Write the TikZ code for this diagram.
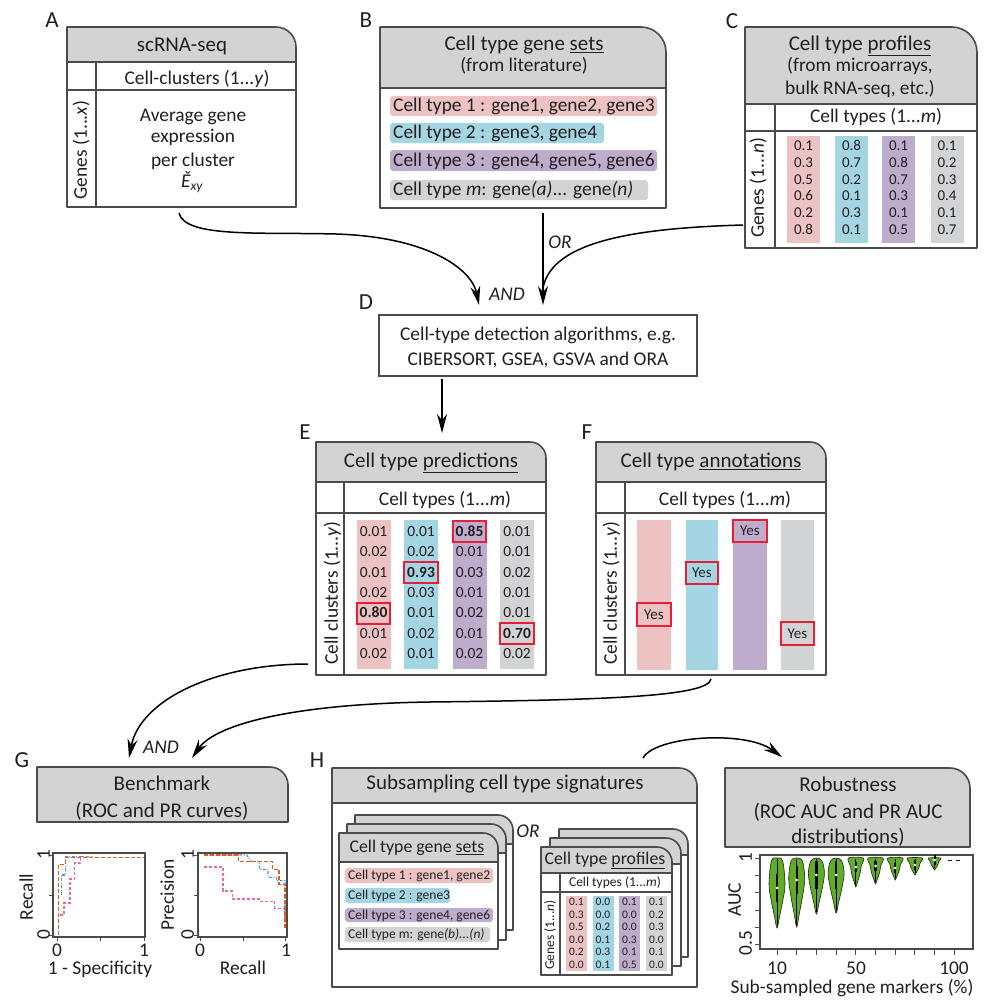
\documentclass[tikz,border=0pt]{standalone}
\usepackage{fontspec}
\setmainfont{Carlito}
\usetikzlibrary{arrows.meta}
\definecolor{txt}{RGB}{35,31,32}
\definecolor{hdrc}{RGB}{211,211,212}
\definecolor{cpink}{RGB}{236,194,194}
\definecolor{cblue}{RGB}{163,213,226}
\definecolor{cpurp}{RGB}{190,172,205}
\definecolor{cgray}{RGB}{210,211,213}
\definecolor{lnc}{RGB}{75,75,75}
\definecolor{redb}{RGB}{230,30,55}
\definecolor{vgreen}{RGB}{96,172,42}
\definecolor{corange}{RGB}{232,90,20}
\definecolor{cbluel}{RGB}{75,150,205}
\definecolor{cpinkl}{RGB}{225,105,175}
\newcommand\card[6]{%
  \fill[white] (#1,#4) -- (#1,#2) -- ({#3-#6},#2) .. controls ({#3-0.45*#6},#2) and (#3,{#2+0.45*#6}) .. (#3,{#2+#6}) -- (#3,#4) -- cycle;
  \fill[hdrc] (#1,#5) -- (#1,#2) -- ({#3-#6},#2) .. controls ({#3-0.45*#6},#2) and (#3,{#2+0.45*#6}) .. (#3,{#2+#6}) -- (#3,#5) -- cycle;
  \draw[cardline] (#1,#4) -- (#1,#2) -- ({#3-#6},#2) .. controls ({#3-0.45*#6},#2) and (#3,{#2+0.45*#6}) .. (#3,{#2+#6}) -- (#3,#4) -- cycle;
  \draw[cardline] (#1,#5) -- (#3,#5);
}
\newcommand\violinT[5]{% cx yb ym w med
  \pgfmathsetmacro\vh{#2-#3}
  \draw[violin] plot[smooth cycle,tension=0.6] coordinates {(#1,858) ({#1+0.7*#4},861) ({#1+#4},#3) ({#1+0.75*#4},{#3+0.35*\vh}) ({#1+0.3*#4},{#3+0.75*\vh}) (#1,#2) ({#1-0.3*#4},{#3+0.75*\vh}) ({#1-0.75*#4},{#3+0.35*\vh}) ({#1-#4},#3) ({#1-0.7*#4},861)};
  \draw[line width=0.8pt] (#1,859) -- (#1,{#2-2});
  \draw[line width=2.2pt] (#1,{#5-14}) -- (#1,{#5+14});
  \fill[white] (#1,#5) circle (1.5pt);
}
\newcommand\violinP[4]{% cx yb w med
  \pgfmathsetmacro\vh{#2-858}
  \draw[violin] plot[smooth cycle,tension=0.5] coordinates {({#1-#3},858) ({#1+#3},858) ({#1+0.7*#3},{858+0.3*\vh}) ({#1+0.55*#3},{858+0.55*\vh}) ({#1+0.2*#3},{858+0.85*\vh}) (#1,#2) ({#1-0.2*#3},{858+0.85*\vh}) ({#1-0.55*#3},{858+0.55*\vh}) ({#1-0.7*#3},{858+0.3*\vh})};
  \draw[line width=0.8pt] (#1,859) -- (#1,{#2-2});
  \draw[line width=2.2pt] (#1,{#4-5}) -- (#1,{#4+5});
  \fill[white] (#1,#4) circle (1.5pt);
}
\begin{document}
\begin{tikzpicture}[x=1pt,y=-1pt,
  t/.style={inner sep=0pt,text depth=0pt,text=txt},
  lb/.style={t,font=\fontsize{23}{23}\selectfont,text height=13.8pt},
  hd/.style={t,font=\fontsize{21}{21}\selectfont,text height=12.6pt},
  bd/.style={t,font=\fontsize{19.4}{19.4}\selectfont,text height=11.6pt},
  nC/.style={t,font=\fontsize{15}{15}\selectfont,text height=9pt},
  nE/.style={t,font=\fontsize{15.5}{15.5}\selectfont,text height=9.3pt},
  hs/.style={t,font=\fontsize{17.8}{17.8}\selectfont,text height=10.7pt},
  hr/.style={t,font=\fontsize{13.5}{13.5}\selectfont,text height=8.1pt},
  hn/.style={t,font=\fontsize{11.5}{11.5}\selectfont,text height=6.9pt},
  cardline/.style={draw=lnc,line width=1.6pt,line join=round},
  arr/.style={line width=1.5pt,-{Stealth[length=19pt,width=10pt]}},
  redbox/.style={draw=redb,line width=1.4pt},
  violin/.style={fill=vgreen,draw=black!75!vgreen,line width=0.6pt},
  axis/.style={draw=lnc,line width=1.3pt},
]
\useasboundingbox (0,0) rectangle (1000,1006);
\fill[white] (0,0) rectangle (1000,1006);

% ---------- labels
\node[lb] (labA) at (52,21) {A};
\node[lb] (labB) at (366,21) {B};
\node[lb] (labC) at (732,22) {C};
\node[lb] (labD) at (366,303) {D};
\node[lb] (labE) at (305,433) {E};
\node[lb] (labF) at (587,433) {F};
\node[lb] (labG) at (22,761) {G};
\node[lb] (labH) at (317,761) {H};

% ---------- A
\card{67}{27}{296}{207}{62}{20}
\draw[cardline] (67,90) -- (296,90);
\draw[cardline] (96,62) -- (96,207);
\node[hd] (a1) at (182,45) {scRNA-seq};
\node[bd] (a2) at (197,79) {Cell-clusters (1...\textit{y})};
\node[bd] (a3) at (193,116) {Average gene};
\node[bd] (a4) at (193,137) {expression};
\node[bd] (a5) at (193,161) {per cluster};
\node[bd] (a6) at (192,182) {\itshape Ě\textsubscript{xy}};
\node[bd,rotate=90] (a7) at (81,150) {Genes (1...\textit{x})};

% ---------- B
\card{380}{27}{666}{208}{88}{25}
\node[hd] (b1) at (524,44) {Cell type gene \underline{sets}};
\node[bd] (b2) at (524,66) {(from literature)};
\fill[cpink,rounded corners=3pt] (390,96) rectangle (657,116);
\fill[cblue,rounded corners=3pt] (390,123) rectangle (604,143);
\fill[cpurp,rounded corners=3pt] (390,150) rectangle (657,171);
\fill[cgray,rounded corners=3pt] (390,180) rectangle (648,200);
\node[bd,anchor=west] (b3) at (393,106) {Cell type 1 : gene1, gene2, gene3};
\node[bd,anchor=west] (b4) at (393,133) {Cell type 2 : gene3, gene4};
\node[bd,anchor=west] (b5) at (393,160.5) {Cell type 3 : gene4, gene5, gene6};
\node[bd,anchor=west] (b6) at (393,190) {Cell type \textit{m}: gene\textit{(a)}... gene\textit{(n)}};

% ---------- C
\card{745}{27}{977}{248}{104}{25}
\draw[cardline] (745,131) -- (977,131);
\draw[cardline] (775,104) -- (775,248);
\node[hd] (c1) at (860,44) {Cell type \underline{profiles}};
\node[bd] (c2) at (860,66) {(from microarrays,};
\node[bd] (c3) at (860,89) {bulk RNA-seq, etc.)};
\node[bd] (c4) at (876,117) {Cell types (1...\textit{m})};
\node[bd,rotate=90] (c5) at (758,188) {Genes (1...\textit{n})};
\foreach \cx/\cc/\vals [count=\i] in {803.5/cpink/{0.1,0.3,0.5,0.6,0.2,0.8},851.5/cblue/{0.8,0.7,0.2,0.1,0.3,0.1},898.5/cpurp/{0.1,0.8,0.7,0.3,0.1,0.5},947/cgray/{0.1,0.2,0.3,0.4,0.1,0.7}}{
  \fill[\cc] ({\cx-16.5},136) rectangle ({\cx+16.5},243);
  \foreach \v [count=\r] in \vals {\node[nC] (cv\i-\r) at (\cx,{146+16.8*(\r-1)}) {\v};}
}

% ---------- D
\node[draw=lnc,line width=1.6pt,minimum width=318pt,minimum height=61pt,inner sep=0pt] (D) at (538,345.5) {};
\node[bd] (d1) at (538,335) {Cell-type detection algorithms, e.g.};
\node[bd] (d2) at (538,360) {CIBERSORT, GSEA, GSVA and ORA};

% connectors to D
\coordinate (Aout) at (179,213);
\coordinate (Din1) at (479,305);
\coordinate (Bout) at (543,213);
\coordinate (Din2) at (543,305);
\coordinate (Cout) at (743,225);
\coordinate (Cjoin) at (543,288);
\draw[arr] (Aout) .. controls (185,238) and (260,232) .. (336,234) .. controls (430,237) and (472,270) .. (Din1);
\draw[arr] (Bout) -- (Din2);
\draw[line width=1.5pt] (Cout) .. controls (640,228) and (552,240) .. (Cjoin);
\node[bd,font=\fontsize{19.4}{19.4}\selectfont\itshape] (andD) at (507,295) {AND};
\node[bd,font=\fontsize{19.4}{19.4}\selectfont\itshape] (orD) at (560,243) {OR};

\coordinate (Dout) at (442,379);
\coordinate (Ein) at (442,433);
\draw[arr] (Dout) -- (Ein);

% ---------- E
\card{316}{442}{546}{675}{482}{16}
\draw[cardline] (316,513) -- (546,513);
\draw[cardline] (344,482) -- (344,675);
\node[hd] (e1) at (431,461) {Cell type \underline{predictions}};
\node[bd] (e2) at (445,500) {Cell types (1...\textit{m})};
\node[bd,rotate=90] (e3) at (332,593) {Cell clusters (1...\textit{y})};
\foreach \cx/\cc/\vals [count=\i] in {373.5/cpink/{0.01,0.02,0.01,0.02,\textbf{0.80},0.01,0.02},421/cblue/{0.01,0.02,\textbf{0.93},0.03,0.01,0.02,0.01},469.5/cpurp/{\textbf{0.85},0.01,0.03,0.01,0.02,0.01,0.02},517/cgray/{0.01,0.01,0.02,0.01,0.01,\textbf{0.70},0.02}}{
  \fill[\cc] ({\cx-17},520) rectangle ({\cx+17},669);
  \foreach \v [count=\r] in \vals {\node[nE] (ev\i-\r) at (\cx,{532+20.3*(\r-1)}) {\v};}
}
\draw[redbox] (357,603) rectangle (390,624);
\draw[redbox] (404,562) rectangle (438,583);
\draw[redbox] (453,521) rectangle (486,542);
\draw[redbox] (500,623) rectangle (534,644);

% ---------- F
\card{596}{442}{826}{675}{482}{16}
\draw[cardline] (596,513) -- (826,513);
\draw[cardline] (625,482) -- (625,675);
\node[hd] (f1) at (711,461) {Cell type \underline{annotations}};
\node[bd] (f2) at (725,500) {Cell types (1...\textit{m})};
\node[bd,rotate=90] (f3) at (611,593) {Cell clusters (1...\textit{y})};
\fill[cpink] (637,520) rectangle (671,670);
\fill[cblue] (686,520) rectangle (718,670);
\fill[cpurp] (733,520) rectangle (767,670);
\fill[cgray] (781,520) rectangle (814,670);
\draw[redbox] (637,603) rectangle (671,626);
\draw[redbox] (686,562) rectangle (718,584);
\draw[redbox] (733,520) rectangle (767,542);
\draw[redbox] (781,622) rectangle (814,645);
\node[nE,font=\fontsize{15}{15}\selectfont] (y1) at (654,614.5) {Yes};
\node[nE,font=\fontsize{15}{15}\selectfont] (y2) at (702,573) {Yes};
\node[nE,font=\fontsize{15}{15}\selectfont] (y3) at (750,531) {Yes};
\node[nE,font=\fontsize{15}{15}\selectfont] (y4) at (797.5,633.5) {Yes};

% connectors to G
\coordinate (Eout) at (308,664);
\coordinate (Gin1) at (129,758);
\coordinate (Fout) at (711,679);
\coordinate (Gin2) at (192,758);
\draw[arr] (Eout) .. controls (215,664) and (140,700) .. (Gin1);
\draw[arr] (Fout) .. controls (708,697) and (600,700) .. (430,702) .. controls (290,704) and (215,725) .. (Gin2);
\node[bd,font=\fontsize{19.4}{19.4}\selectfont\itshape] (andG) at (161,748) {AND};

% ---------- G
\card{37}{767}{288}{822}{822}{18}
\node[hd] (g1) at (162,784) {Benchmark};
\node[hd] (g2) at (162,811) {(ROC and PR curves)};
% plot 1
\draw[axis] (53,853) rectangle (145,937);
\foreach \yy in {855,895,935} \draw[axis,line width=1pt] (53,\yy) -- (49,\yy);
\foreach \xx in {57,100,144} \draw[axis,line width=1pt] (\xx,937) -- (\xx,941);
\node[bd,rotate=90] (g3) at (44,855) {1};
\node[bd,rotate=90] (g4) at (44,935) {0};
\node[bd] (g5) at (57,951) {0};
\node[bd] (g6) at (144,951) {1};
\node[bd,rotate=90] (g7) at (27,897) {Recall};
\node[bd] (g8) at (100,969) {1 - Specificity};
\begin{scope}[shift={(57,935)},x=87pt,y=80pt]
  \draw[cpinkl,line width=1.2pt,dash pattern=on 3pt off 2pt] (0.03,0.25) -- (0.08,0.25) -- (0.08,0.4) -- (0.15,0.4) -- (0.15,0.7) -- (0.2,0.7) -- (0.2,0.9) -- (0.27,0.9) -- (0.27,0.98) -- (0.4,0.98);
  \draw[cbluel,line width=1.2pt,dash pattern=on 3pt off 1.5pt on 1pt off 1.5pt] (0.05,0.5) -- (0.05,0.75) -- (0.1,0.75) -- (0.1,0.98) -- (0.3,0.98);
  \draw[corange,line width=1.4pt,dash pattern=on 4pt off 2pt] (0.02,0) -- (0.02,0.88) -- (0.1,0.88) -- (0.1,0.97) -- (1,0.97);
\end{scope}
% plot 2
\draw[axis] (198,853) rectangle (287,937);
\foreach \yy in {855,895,935} \draw[axis,line width=1pt] (198,\yy) -- (194,\yy);
\foreach \xx in {200,243,285} \draw[axis,line width=1pt] (\xx,937) -- (\xx,941);
\node[bd,rotate=90] (g9) at (188,855) {1};
\node[bd,rotate=90] (g10) at (188,935) {0};
\node[bd] (g11) at (200,951) {0};
\node[bd] (g12) at (286,951) {1};
\node[bd,rotate=90] (g13) at (168,895) {Precision};
\node[bd] (g14) at (243,969) {Recall};
\begin{scope}[shift={(200,935)},x=85pt,y=80pt]
  \draw[cpinkl,line width=1.2pt,dash pattern=on 3pt off 2pt] (0.05,0.85) -- (0.27,0.85) -- (0.27,0.55) -- (0.38,0.55) -- (0.38,0.45) -- (0.7,0.45) -- (0.7,0.42) -- (0.88,0.42) -- (0.88,0.33) -- (1,0.33) -- (1,0.2);
  \draw[cbluel,line width=1.2pt,dash pattern=on 3pt off 1.5pt on 1pt off 1.5pt] (0.05,1) -- (0.55,1) -- (0.6,0.92) -- (0.7,0.92) -- (0.7,0.82) -- (0.8,0.82) -- (0.8,0.72) -- (0.9,0.72) -- (0.9,0.68) -- (1,0.68) -- (1,0.1);
  \draw[corange,line width=1.4pt,dash pattern=on 4pt off 2pt] (0.05,1) -- (0.45,1) -- (0.45,0.92) -- (0.85,0.92) -- (0.85,0.82) -- (0.93,0.82) -- (0.93,0.63) -- (1,0.63) -- (1,0.08);
\end{scope}

% ---------- H
\card{332}{768}{697}{987}{803}{18}
\node[hd] (h1) at (505,783) {Subsampling cell type signatures};
% gene set stack
\card{355}{815}{513}{930}{844}{15}
\card{347}{824}{506}{940}{853}{15}
\card{339}{833}{498}{949}{862}{15}
\node[hs] (h2) at (417,847) {Cell type gene \underline{sets}};
\fill[cpink,rounded corners=3pt] (345,868) rectangle (493,883);
\fill[cblue,rounded corners=3pt] (345,888) rectangle (450,903);
\fill[cpurp,rounded corners=3pt] (345,908) rectangle (493,922);
\fill[cgray,rounded corners=3pt] (345,927) rectangle (490,942);
\node[hr,anchor=west] (h3) at (348,875.5) {Cell type 1 : gene1, gene2};
\node[hr,anchor=west] (h4) at (348,895.5) {Cell type 2 : gene3};
\node[hr,anchor=west] (h5) at (348,915) {Cell type 3 : gene4, gene6};
\node[hr,anchor=west] (h6) at (348,934.5) {Cell type m: gene\textit{(b)...(n)}};
\node[bd,font=\fontsize{19.4}{19.4}\selectfont\itshape] (orH) at (528,832) {OR};
% profile stack
\card{559}{829}{688}{957}{855}{15}
\card{550}{838}{681}{966}{864}{15}
\card{541}{847}{672}{975}{873}{15}
\draw[cardline] (541,892) -- (672,892);
\draw[cardline] (560,873) -- (560,975);
\node[hs] (h7) at (605,859) {Cell type \underline{profiles}};
\node[hr] (h8) at (615,882) {Cell types (1...\textit{m})};
\node[hr,rotate=90] (h9) at (550,935) {Genes (1...\textit{n})};
\foreach \cx/\cc/\vals [count=\i] in {576.5/cpink/{0.1,0.3,0.5,0.0,0.2,0.0},603/cblue/{0.0,0.0,0.2,0.1,0.3,0.1},629.5/cpurp/{0.1,0.0,0.0,0.3,0.1,0.5},656.5/cgray/{0.1,0.2,0.3,0.0,0.1,0.0}}{
  \fill[\cc] ({\cx-10.5},896) rectangle ({\cx+10.5},971);
  \foreach \v [count=\r] in \vals {\node[hn] (hv\i-\r) at (\cx,{902+12.6*(\r-1)}) {\v};}
}

% H -> Robustness
\coordinate (Hout) at (643,758);
\coordinate (Rin) at (782,757);
\draw[arr] (Hout) .. controls (655,736) and (745,730) .. (Rin);

% ---------- Robustness
\card{725}{768}{970}{847}{847}{20}
\node[hd] (r1) at (848,785) {Robustness};
\node[hd] (r2) at (848,812) {(ROC AUC and PR AUC};
\node[hd] (r3) at (848,837) {distributions)};
\draw[axis] (760,855) rectangle (973,949);
\foreach \v in {1,0.9,0.8,0.7,0.6,0.5} \draw[axis,line width=1pt] (760,{858.3+(1-\v)*173.3}) -- (755,{858.3+(1-\v)*173.3});
\foreach \i in {0,...,9} \draw[axis,line width=1pt] ({777+19.7*\i},949) -- ({777+19.7*\i},955);
\node[bd,rotate=90] (r4) at (746,858) {1};
\node[bd,rotate=90] (r5) at (746,943) {0.5};
\node[bd,rotate=90] (r6) at (735,900) {AUC};
\node[bd] (r7) at (777,969) {10};
\node[bd] (r8) at (856,969) {50};
\node[bd] (r9) at (954,969) {100};
\node[bd] (r10) at (852,988) {Sub-sampled gene markers (\%)};
\violinT{777}{928}{884}{8}{888}
\violinT{796.7}{927}{878}{8}{880}
\violinT{816.4}{914}{873}{8}{875}
\violinT{836.1}{913}{873}{8}{875}
\violinP{855.8}{887}{7.5}{867}
\violinP{875.5}{884}{7.5}{866}
\violinP{895.2}{880}{7.5}{868}
\violinP{914.9}{875}{7.5}{865}
\violinP{934.6}{870}{6}{860}
\draw[black!75!vgreen,line width=1pt] (948,860) -- (952,860) (956,860) -- (960,860);
\end{tikzpicture}
\end{document}
